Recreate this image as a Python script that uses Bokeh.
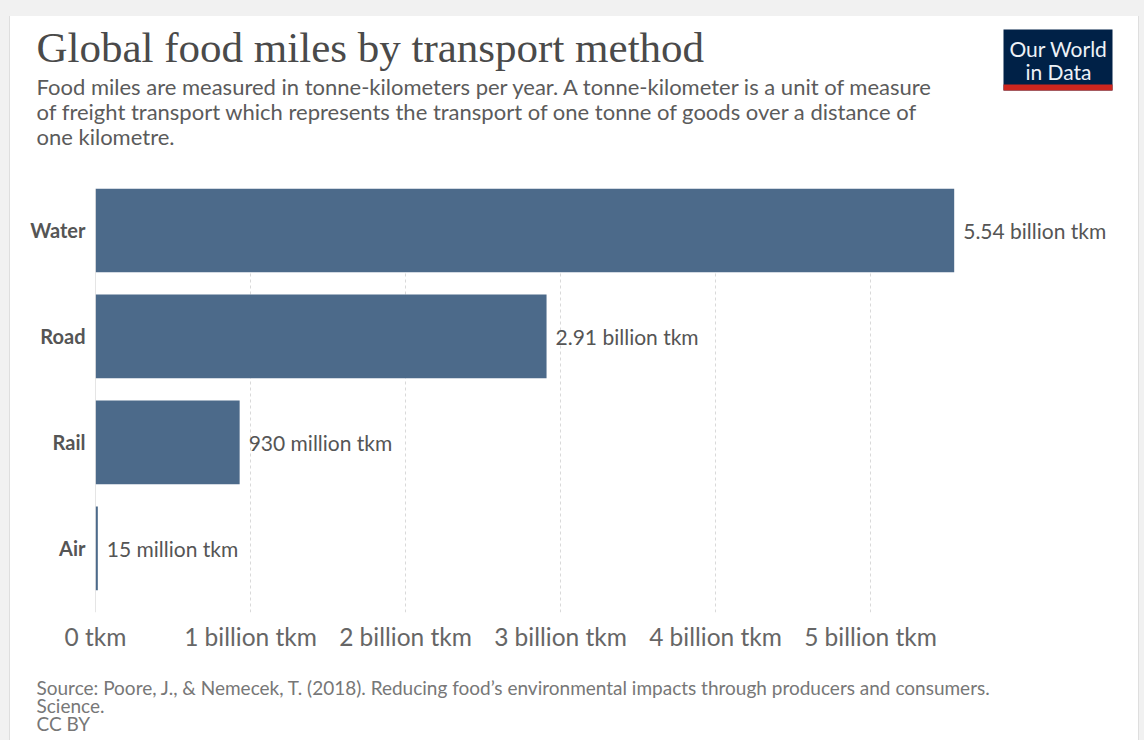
from bokeh.plotting import figure
from bokeh.layouts import column, row
from bokeh.models import Range1d, FixedTicker, Span, ColumnDataSource
from bokeh.core.properties import value
from bokeh.embed import file_html
from bokeh.resources import INLINE

# ---- data ----
categories = ["Water", "Road", "Rail", "Air"]
tkm_billion = [5.54, 2.91, 0.93, 0.015]
value_labels = ["5.54 billion tkm", "2.91 billion tkm", "930 million tkm", "15 million tkm"]
x_ticks = [0, 1, 2, 3, 4, 5]
x_tick_labels = ["0 tkm", "1 billion tkm", "2 billion tkm", "3 billion tkm", "4 billion tkm", "5 billion tkm"]

title = "Global food miles by transport method"
subtitle_lines = [
    "Food miles are measured in tonne-kilometers per year. A tonne-kilometer is a unit of measure",
    "of freight transport which represents the transport of one tonne of goods over a distance of",
    "one kilometre.",
]
source_lines = [
    "Source: Poore, J., & Nemecek, T. (2018). Reducing food\u2019s environmental impacts through producers and consumers.",
    "Science.",
    "CC BY",
]
logo_lines = ["Our World", "in Data"]

BAR = "#4c6a8a"
PAGE_BG = "#f1f1f1"
EDGE = "#dedede"
OX, OY = 10, 16          # card offset inside the page
W = 1128                 # card width
HEAD_H, MAIN_H, FOOT_H = 160, 489, 75
FL, FR, FT, FB = 85, 1108, 12, 53  # main frame: left, right edge, top border, bottom border


def blank(h, margin):
    f = figure(width=W, height=h, output_backend="svg", toolbar_location=None,
               x_range=Range1d(0, W), y_range=Range1d(h, 0),
               x_axis_type=None, y_axis_type=None,
               min_border=0, min_border_left=0, min_border_right=0,
               min_border_top=0, min_border_bottom=0, margin=margin)
    f.grid.visible = False
    f.outline_line_color = None
    f.background_fill_color = "white"
    f.border_fill_color = "white"
    return f


# ---- header ----
head = blank(HEAD_H, (OY, 1144 - OX - W, 0, OX))
head.text(x=[26], y=[31], text=[title], text_font=value("Liberation Serif"),
          text_font_size="43px", text_color="#4a4a4a", text_baseline="alphabetic")
head.text(x=[26] * len(subtitle_lines), y=[70 + 25 * i for i in range(len(subtitle_lines))],
          text=subtitle_lines, text_font=value("Lato"), text_font_size="22px",
          text_color="#5b5b5b", text_baseline="alphabetic")
head.quad(left=[993], right=[1102], top=[13], bottom=[74], fill_color="#002147", line_color=None)
head.quad(left=[993], right=[1102], top=[68], bottom=[74], fill_color="#ce261e", line_color=None)
head.text(x=[1048, 1048], y=[32, 55], text=logo_lines, text_font=value("Lato"),
          text_font_size="21px", text_color="#eef2f7", text_align="center",
          text_baseline="alphabetic")

# ---- main chart ----
n = len(categories)
ypos = [n - 1 - i for i in range(n)]
src = ColumnDataSource(dict(y=ypos, v=tkm_billion, lab=value_labels))

p = figure(width=W, height=MAIN_H, output_backend="svg", toolbar_location=None,
           x_range=Range1d(0, 6.6), y_range=Range1d(-0.604, 3.396),
           min_border_left=FL, min_border_top=FT, min_border_bottom=FB, min_border_right=W - FR,
           margin=(0, 1144 - OX - W, 0, OX))
p.outline_line_color = None
p.background_fill_color = "white"
p.border_fill_color = "white"

p.hbar(y="y", right="v", left=0, height=0.79, source=src, fill_color=BAR, line_color=None)
p.text(x="v", y="y", text="lab", source=src, x_offset=9, text_baseline="middle",
       text_font=value("Lato"), text_font_size="21px", text_color="#555555")

p.xaxis.ticker = FixedTicker(ticks=x_ticks)
p.xaxis.major_label_overrides = {t: l for t, l in zip(x_ticks, x_tick_labels)}
p.xaxis.axis_line_color = None
p.xaxis.major_tick_line_color = None
p.xaxis.minor_tick_line_color = None
p.xaxis.major_label_standoff = 3
p.xaxis.major_label_text_font = "Lato"
p.xaxis.major_label_text_font_size = "24.5px"
p.xaxis.major_label_text_color = "#666666"

p.yaxis.ticker = FixedTicker(ticks=ypos)
p.yaxis.major_label_overrides = {y: c for y, c in zip(ypos, categories)}
p.yaxis.axis_line_color = None
p.yaxis.major_tick_line_color = None
p.yaxis.minor_tick_line_color = None
p.yaxis.major_label_standoff = 4
p.yaxis.major_label_text_font = "Lato"
p.yaxis.major_label_text_font_style = "bold"
p.yaxis.major_label_text_font_size = "20px"
p.yaxis.major_label_text_color = "#555555"

p.xgrid.ticker = FixedTicker(ticks=x_ticks[1:])
p.xgrid.grid_line_color = "#d9d9d9"
p.xgrid.grid_line_dash = "3 3"
p.ygrid.grid_line_color = None
p.add_layout(Span(location=0, dimension="height", line_color="#cccccc", line_width=1))

# ---- footer ----
foot = blank(FOOT_H, (0, 1144 - OX - W, 0, OX))
foot.text(x=[26] * len(source_lines), y=[22 + 18 * i for i in range(len(source_lines))],
          text=source_lines, text_font=value("Lato"), text_font_size="19px",
          text_color="#777777", text_baseline="alphabetic")

shadow = ", ".join([
    f"inset 0 {OY}px 0 0 {PAGE_BG}",
    f"inset {OX - 1}px 0 0 0 {PAGE_BG}",
    f"inset {OX}px 0 0 0 {EDGE}",
    f"inset -5px 0 0 0 {PAGE_BG}",
    f"inset -6px 0 0 0 {EDGE}",
])
layout = column(row(head), row(p), row(foot), spacing=0,
                styles={"background-color": "white", "box-shadow": shadow})
open("out.html", "w").write(file_html(layout, INLINE))
